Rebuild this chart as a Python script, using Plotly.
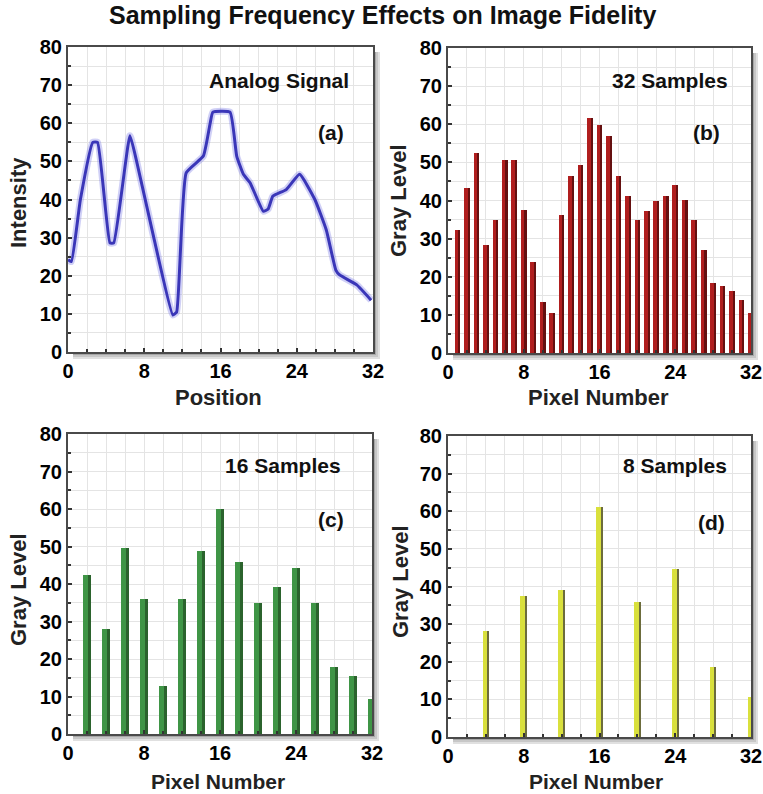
import plotly.graph_objects as go

W, H = 763, 794

# ---------------- data ----------------
pos_a = [0, 0.35, 1.3, 2.6, 3.1, 4.4, 4.8, 6.5, 7.2, 9.0, 11.0, 11.4, 12.4, 14.2,
         14.9, 15.2, 17.0, 17.7, 18.4, 19.1, 20.5, 21.0, 21.5, 22.9, 24.3, 25.9,
         27.1, 28.1, 28.5, 30.3, 31.8]
intensity_a = [24.2, 23.7, 40, 55, 55, 28.6, 28.6, 56.7, 50, 30, 9.7, 10.5, 47, 51.4,
               59.8, 62.9, 62.9, 51.4, 46.6, 44.4, 36.9, 37.5, 40.9, 42.6, 46.6, 40,
               32, 21.5, 20.2, 17.6, 13.6]

pix_b = list(range(1, 33))
gray_b = [32.3, 43.3, 52.4, 28.4, 35, 50.7, 50.7, 37.6, 24, 13.5, 10.5, 36.3,
          46.3, 49.4, 61.6, 59.9, 56.8, 46.3, 41.1, 35, 37.2, 39.8, 41.1, 44.1,
          40.2, 35, 27.1, 18.4, 17.5, 16.2, 14, 10.5]

pix_c = list(range(2, 33, 2))
gray_c = [42.4, 27.9, 49.5, 36.1, 12.8, 36.1, 48.8, 60.1, 45.8, 34.9, 39.2, 44.2,
          34.9, 17.9, 15.5, 9.3]

pix_d = list(range(4, 33, 4))
gray_d = [28.1, 37.4, 39.1, 61.1, 35.8, 44.7, 18.6, 10.7]

x_ticks = [0, 8, 16, 24, 32]
y_ticks = [0, 10, 20, 30, 40, 50, 60, 70, 80]

title = "Sampling Frequency Effects on Image Fidelity"
panel_labels = ["Analog Signal", "32 Samples", "16 Samples", "8 Samples"]
panel_tags = ["(a)", "(b)", "(c)", "(d)"]
x_titles = ["Position", "Pixel Number", "Pixel Number", "Pixel Number"]
y_titles = ["Intensity", "Gray Level", "Gray Level", "Gray Level"]

# ---------------- layout helpers ----------------
def px(x):
    return x / W

def py(y):
    return 1 - y / H

# plot area boxes in pixels (left, top, right, bottom)
boxes = [(68, 47, 373, 352), (448, 48, 751, 353), (68, 434, 372, 734), (448, 436, 751, 737)]

FONT = "Liberation Sans, Arial, sans-serif"
fig = go.Figure()

# panel (a): glow + line
fig.add_trace(go.Scatter(x=pos_a, y=intensity_a, mode="lines",
                         line=dict(color="rgba(120,120,230,0.35)", width=7, shape="spline", smoothing=0.4),
                         xaxis="x", yaxis="y", showlegend=False, hoverinfo="skip"))
fig.add_trace(go.Scatter(x=pos_a, y=intensity_a, mode="lines",
                         line=dict(color="#3a36b8", width=3, shape="spline", smoothing=0.4),
                         xaxis="x", yaxis="y", showlegend=False))

def add_bars(xs, ys, axn, width, dark, light, frac):
    fig.add_trace(go.Bar(x=xs, y=ys, width=width, offset=-width / 2,
                         marker=dict(color=dark, line=dict(width=0)),
                         xaxis="x" + axn, yaxis="y" + axn, showlegend=False))
    fig.add_trace(go.Bar(x=xs, y=ys, width=width * frac, offset=-width / 2,
                         marker=dict(color=light, line=dict(width=0)),
                         xaxis="x" + axn, yaxis="y" + axn, showlegend=False,
                         hoverinfo="skip"))

add_bars(pix_b, gray_b, "2", 0.6, "#651010", "#b01e1e", 0.62)
add_bars(pix_c, gray_c, "3", 0.75, "#2b632d", "#3f9546", 0.62)
add_bars(pix_d, gray_d, "4", 0.7, "#6c6c3c", "#d9e03c", 0.7)

layout = dict(
    width=W, height=H,
    margin=dict(l=0, r=0, t=0, b=0, autoexpand=False),
    paper_bgcolor="white", plot_bgcolor="white",
    barmode="overlay", bargap=0,
    showlegend=False,
    font=dict(family=FONT, color="black"),
)

shapes = []
annotations = [dict(text=title, x=px(382), y=py(15), xref="paper", yref="paper",
                    showarrow=False, xanchor="center", yanchor="middle",
                    font=dict(family=FONT, size=25, weight="bold", color="#111"))]

label_pos = [((279, 81), (331, 132)), ((670, 81), (706, 132)),
             ((283, 466), (331, 519)), ((675, 466), (711, 522))]
xtitle_pos = [(218, 397), (598, 397), (218, 781), (596, 781)]
ytitle_pos = [(18, 203), (398, 200), (18, 590), (400, 582)]

for i, (l, t, r, b) in enumerate(boxes):
    n = "" if i == 0 else str(i + 1)
    axis_common = dict(showline=True, linecolor="#4a4a4a", linewidth=2, mirror=True,
                       showgrid=True, gridcolor="#e4e4e4", gridwidth=1,
                       zeroline=False, ticks="inside", ticklen=4, tickwidth=1.5,
                       tickcolor="#333", automargin=False,
                       tickfont=dict(family=FONT, size=20, weight="bold", color="black"))
    layout["xaxis" + n] = dict(axis_common, domain=[px(l), px(r)], range=[0, 32],
                               tickvals=x_ticks, anchor="y" + n,
                               minor=dict(dtick=2, tick0=0, showgrid=True, gridcolor="#e4e4e4",
                                          ticks="inside", ticklen=3, tickcolor="#333"))
    layout["yaxis" + n] = dict(axis_common, domain=[py(b), py(t)], range=[0, 80],
                               tickvals=y_ticks, anchor="x" + n,
                               minor=dict(dtick=5, tick0=0, showgrid=True, gridcolor="#e4e4e4",
                                          ticks="inside", ticklen=3, tickcolor="#333"))
    # drop shadow strips
    for k, op in enumerate([0.35, 0.22, 0.12]):
        shapes.append(dict(type="rect", xref="paper", yref="paper", layer="below",
                           x0=px(r + 1 + 2 * k), x1=px(r + 3 + 2 * k),
                           y0=py(b + 3 + 2 * k), y1=py(t + 5),
                           fillcolor="black", opacity=op, line=dict(width=0)))
        shapes.append(dict(type="rect", xref="paper", yref="paper", layer="below",
                           x0=px(l + 5), x1=px(r + 1 + 2 * k),
                           y0=py(b + 3 + 2 * k), y1=py(b + 1 + 2 * k),
                           fillcolor="black", opacity=op, line=dict(width=0)))
    (lx, ly), (tx, ty) = label_pos[i]
    annotations.append(dict(text=panel_labels[i], x=px(lx), y=py(ly), xref="paper",
                            yref="paper", showarrow=False, xanchor="center",
                            yanchor="middle",
                            font=dict(family=FONT, size=21, weight="bold", color="#111")))
    annotations.append(dict(text=panel_tags[i], x=px(tx), y=py(ty), xref="paper",
                            yref="paper", showarrow=False, xanchor="center",
                            yanchor="middle",
                            font=dict(family=FONT, size=21, weight="bold", color="#111")))
    xx, xy = xtitle_pos[i]
    annotations.append(dict(text=x_titles[i], x=px(xx), y=py(xy), xref="paper",
                            yref="paper", showarrow=False, xanchor="center",
                            yanchor="middle",
                            font=dict(family=FONT, size=21 if i >= 2 else 22,
                                      weight="bold", color="#222")))
    yx, yy = ytitle_pos[i]
    annotations.append(dict(text=y_titles[i], x=px(yx), y=py(yy), xref="paper",
                            yref="paper", showarrow=False, xanchor="center",
                            yanchor="middle", textangle=-90,
                            font=dict(family=FONT, size=22, weight="bold", color="#222")))

layout["shapes"] = shapes
layout["annotations"] = annotations
fig.update_layout(**layout)
fig.write_html("out.html", config={"displayModeBar": False},
               post_script="document.body.style.margin='0';document.body.style.overflow='hidden';")
